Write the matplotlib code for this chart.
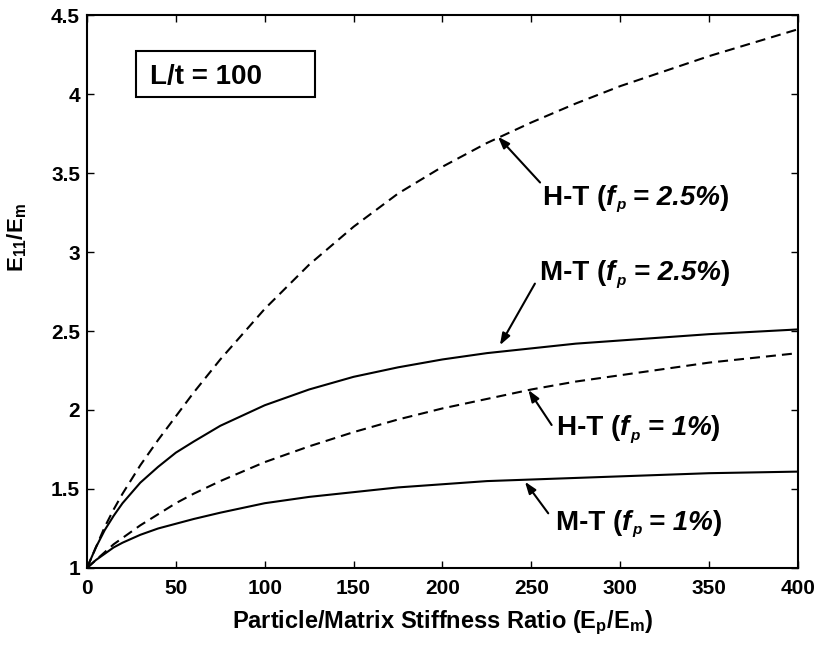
import matplotlib
matplotlib.use("Agg")
import matplotlib.pyplot as plt
from matplotlib.patches import Rectangle

# stiffness ratio Ep/Em (x) and normalised modulus E11/Em for each model
ratio = [0, 5, 10, 15, 20, 30, 40, 50, 60, 75, 100, 125, 150, 175, 200,
         225, 250, 275, 300, 350, 400]
ht_25 = [1.0, 1.13, 1.26, 1.37, 1.47, 1.65, 1.81, 1.96, 2.11, 2.32, 2.64,
         2.92, 3.16, 3.37, 3.54, 3.69, 3.82, 3.94, 4.05, 4.24, 4.41]
mt_25 = [1.0, 1.13, 1.24, 1.33, 1.41, 1.54, 1.64, 1.73, 1.80, 1.90, 2.03,
         2.13, 2.21, 2.27, 2.32, 2.36, 2.39, 2.42, 2.44, 2.48, 2.51]
ht_1 = [1.0, 1.05, 1.10, 1.15, 1.19, 1.27, 1.34, 1.41, 1.47, 1.55, 1.67,
        1.77, 1.86, 1.94, 2.01, 2.07, 2.13, 2.18, 2.22, 2.30, 2.36]
mt_1 = [1.0, 1.05, 1.09, 1.13, 1.16, 1.21, 1.25, 1.28, 1.31, 1.35, 1.41,
        1.45, 1.48, 1.51, 1.53, 1.55, 1.56, 1.57, 1.58, 1.60, 1.61]

xticks = [0, 50, 100, 150, 200, 250, 300, 350, 400]
yticks = [1, 1.5, 2, 2.5, 3, 3.5, 4, 4.5]

plt.rcParams['font.family'] = ['Liberation Sans', 'DejaVu Sans']
plt.rcParams['font.weight'] = 'bold'
plt.rcParams['mathtext.fontset'] = 'custom'
plt.rcParams['mathtext.rm'] = 'Liberation Sans:bold'
plt.rcParams['mathtext.it'] = 'Liberation Sans:bold:italic'
plt.rcParams['mathtext.bf'] = 'Liberation Sans:bold'

fig = plt.figure(figsize=(8.22, 6.45), dpi=100)
ax = fig.add_axes([0.1058, 0.1194, 0.8650, 0.8573])

dash = (0, (4.8, 2.9))
ax.plot(ratio, ht_25, color='black', lw=1.5, ls=dash)
ax.plot(ratio, mt_25, color='black', lw=1.5)
ax.plot(ratio, ht_1, color='black', lw=1.5, ls=dash)
ax.plot(ratio, mt_1, color='black', lw=1.5)

ax.set_xlim(0, 400)
ax.set_ylim(1, 4.5)
ax.set_xticks(xticks)
ax.set_yticks(yticks)
ax.set_xticklabels([str(t) for t in xticks])
ax.set_yticklabels(['1', '1.5', '2', '2.5', '3', '3.5', '4', '4.5'])
ax.tick_params(direction='in', length=5, width=1, top=True, right=True,
               labelsize=15)
ax.tick_params(axis='x', pad=8)
ax.tick_params(axis='y', pad=5)
for s in ax.spines.values():
    s.set_linewidth(1.5)

ax.set_xlabel(r'Particle/Matrix Stiffness Ratio (E$_{\rm p}$/E$_{\rm m}$)',
              fontsize=17, fontweight='bold', va='center')
ax.xaxis.set_label_coords(0.5, -0.10)
ax.set_ylabel(r'E$_{11}$/E$_{\rm m}$', fontsize=16, fontweight='bold', va='center')
ax.yaxis.set_label_coords(-0.098, 0.598)

# L/t box
ax.add_patch(Rectangle((27.4, 3.98), 100.9, 0.29, fill=False, lw=1.5,
                       edgecolor='black'))
ax.text(35.4, 4.11, 'L/t = 100', fontsize=20, fontweight='bold', va='center')


def label(x, y, name, pct, size=20):
    # "NAME (f_p = pct)" with the f_p part in italic, built piece by piece
    t = ax.text(x, y, name + ' (', fontsize=size, va='baseline', ha='left')
    t = ax.annotate('f', xy=(1, 0), xycoords=t, fontsize=size,
                    style='italic', va='bottom', ha='left')
    s = ax.annotate('p', xy=(1, 0), xycoords=t, xytext=(0.5, -1),
                    textcoords='offset points', fontsize=size * 0.55,
                    style='italic', va='bottom', ha='left')
    t = ax.annotate(' = ' + pct, xy=(1, 0), xycoords=s, xytext=(0, 1),
                    textcoords='offset points', fontsize=size,
                    style='italic', va='bottom', ha='left')
    ax.annotate(')', xy=(1, 0), xycoords=t, fontsize=size, va='bottom',
                ha='left')


def arrow(tail, head):
    ax.annotate('', xy=head, xytext=tail,
                arrowprops=dict(arrowstyle='-|>,head_length=0.7,head_width=0.25',
                                color='black', lw=1.5, shrinkA=0, shrinkB=0))


label(256.5, 3.30, 'H-T', '2.5%')
arrow((254.9, 3.44), (231.2, 3.73))
label(254.9, 2.82, 'M-T', '2.5%')
arrow((252.0, 2.80), (232.3, 2.41))
label(264.4, 1.84, 'H-T', '1%')
arrow((261.4, 1.905), (248.3, 2.127))
label(263.8, 1.24, 'M-T', '1%')
arrow((259.5, 1.346), (246.4, 1.546))

fig.savefig('out.png', dpi=100)
